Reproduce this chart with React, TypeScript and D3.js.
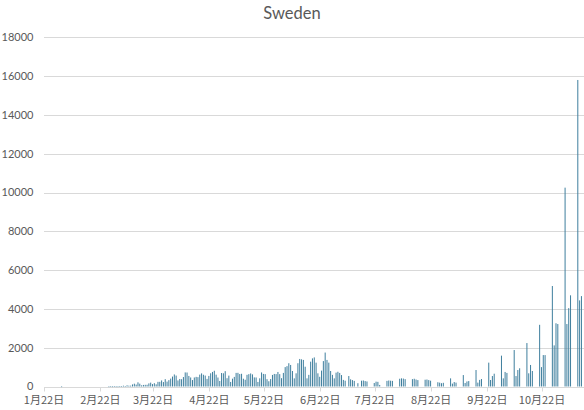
import React from "react";
import * as d3 from "d3";

// Daily new cases, Sweden, 2020 (one value per day, by month)
const casesJan = [0, 0, 0, 0, 0, 0, 0, 0, 0, 1]; // Jan 22 - 31
const casesFeb = [
  0, 0, 0, 0, 0, 0, 0, 0, 0, 0, 0, 0, 0, 0, 0, 0, 0, 0, 0, 0, 0, 0, 0, 0, 0,
  1, 5, 1, 5,
];
const casesMar = [
  1, 1, 15, 22, 42, 7, 60, 42, 45, 107, 145, 99, 215, 147, 61, 81, 87, 89, 160,
  200, 124, 171, 112, 240, 240, 314, 229, 378, 253, 328, 407,
];
const casesApr = [
  512, 621, 563, 312, 387, 376, 487, 726, 722, 544, 466, 332, 465, 497, 482,
  613, 676, 606, 563, 392, 545, 682, 751, 812, 610, 463, 286, 695, 681, 790,
];
const casesMay = [
  428, 562, 235, 404, 495, 702, 705, 642, 656, 401, 348, 602, 637, 673, 625,
  470, 466, 234, 422, 724, 649, 637, 379, 271, 384, 597, 648, 639, 749, 637,
  429,
];
const casesJun = [
  700, 1000, 1050, 1200, 1110, 800, 420, 680, 1200, 1420, 1400, 1370, 1020,
  420, 600, 1280, 1450, 1500, 1230, 680, 500, 820, 1310, 1750, 1370, 1230, 800,
  600, 420, 715,
];
const casesJul = [
  760, 700, 590, 340, 300, 0, 540, 370, 330, 290, 0, 170, 0, 300, 310, 280,
  260, 0, 0, 0, 180, 250, 240, 80, 0, 0, 0, 290, 310, 300, 290,
];
const casesAug = [
  0, 0, 0, 400, 420, 410, 380, 0, 0, 0, 380, 400, 360, 330, 0, 0, 0, 350, 360,
  330, 300, 0, 0, 0, 220, 200, 170, 190, 0, 0, 0,
];
const casesSep = [
  420, 150, 230, 200, 0, 0, 0, 590, 180, 260, 280, 0, 0, 0, 850, 200, 340, 386,
  0, 0, 0, 1230, 335, 540, 660, 0, 0, 0, 1590, 420,
];
const casesOct = [
  750, 700, 0, 0, 0, 1880, 540, 850, 940, 0, 0, 0, 2240, 680, 1110, 800, 0, 0,
  0, 3180, 1000, 1620, 1620, 0, 0, 0, 5180, 2120, 3260, 3220, 0,
];
const casesNov = [0, 0, 10250, 3220, 4040, 4700, 0, 0, 0, 15800, 4440, 4660]; // Nov 1 - 12

const dailyCases = [
  ...casesJan,
  ...casesFeb,
  ...casesMar,
  ...casesApr,
  ...casesMay,
  ...casesJun,
  ...casesJul,
  ...casesAug,
  ...casesSep,
  ...casesOct,
  ...casesNov,
];

const startDate = new Date(2020, 0, 22);
const tickMonths = [0, 1, 2, 3, 4, 5, 6, 7, 8, 9];
const tickLabels = tickMonths.map((m) => `${m + 1}月22日`);
const yTicks = [0, 2000, 4000, 6000, 8000, 10000, 12000, 14000, 16000, 18000];
const title = "Sweden";

const W = 584;
const H = 410;
const left = 44;
const right = 583.8;
const top = 37.3;
const bottom = 386.5;

export default function App() {
  const dayCount = dailyCases.length + 1;
  const x = d3.scaleLinear().domain([0, dayCount]).range([left, right]);
  const y = d3.scaleLinear().domain([0, 18000]).range([bottom, top]);
  const tickDays = tickMonths.map((m) =>
    d3.timeDay.count(startDate, new Date(2020, m, 22))
  );
  const bw = 1.0;
  const crisp = (v: number) => Math.round(v) + 0.5;

  return (
    <svg
      width={W}
      height={H}
      style={{ position: "absolute", left: 0, top: 0, background: "#fff" }}
    >
      <rect x={0} y={0} width={W} height={H} fill="#fff" />
      <text
        x={292}
        y={19}
        textAnchor="middle"
        fontFamily="Lato, 'Open Sans', sans-serif"
        fontSize={16.5}
        fill="#595959"
      >
        {title}
      </text>
      {yTicks.map((t) => (
        <g key={t}>
          <line
            x1={left}
            x2={W}
            y1={crisp(y(t))}
            y2={crisp(y(t))}
            stroke="#d9d9d9"
            strokeWidth={1}
          />
          <text
            x={33.5}
            y={y(t)}
            dy="0.35em"
            textAnchor="end"
            fontFamily="Lato, 'Open Sans', sans-serif"
            fontSize={11}
            fill="#595959"
          >
            {t}
          </text>
        </g>
      ))}
      {tickDays.map((d, i) => (
        <g key={i}>
          <line
            x1={crisp(x(d))}
            x2={crisp(x(d))}
            y1={crisp(y(0))}
            y2={crisp(y(0)) + 4}
            stroke="#d9d9d9"
          />
          <text
            x={x(d)}
            y={404}
            textAnchor="middle"
            fontFamily="'Noto Sans CJK SC', sans-serif"
            fontSize={11}
            fill="#595959"
          >
            {tickLabels[i]}
          </text>
        </g>
      ))}
      <g>
        {dailyCases.map((v, i) =>
          v > 0 ? (
            <rect
              key={i}
              x={x(i + 0.7) - bw / 2}
              y={y(v)}
              width={bw}
              height={Math.max(0.6, y(0) - y(v))}
              fill="#3f7f9e"
            />
          ) : null
        )}
      </g>
    </svg>
  );
}
